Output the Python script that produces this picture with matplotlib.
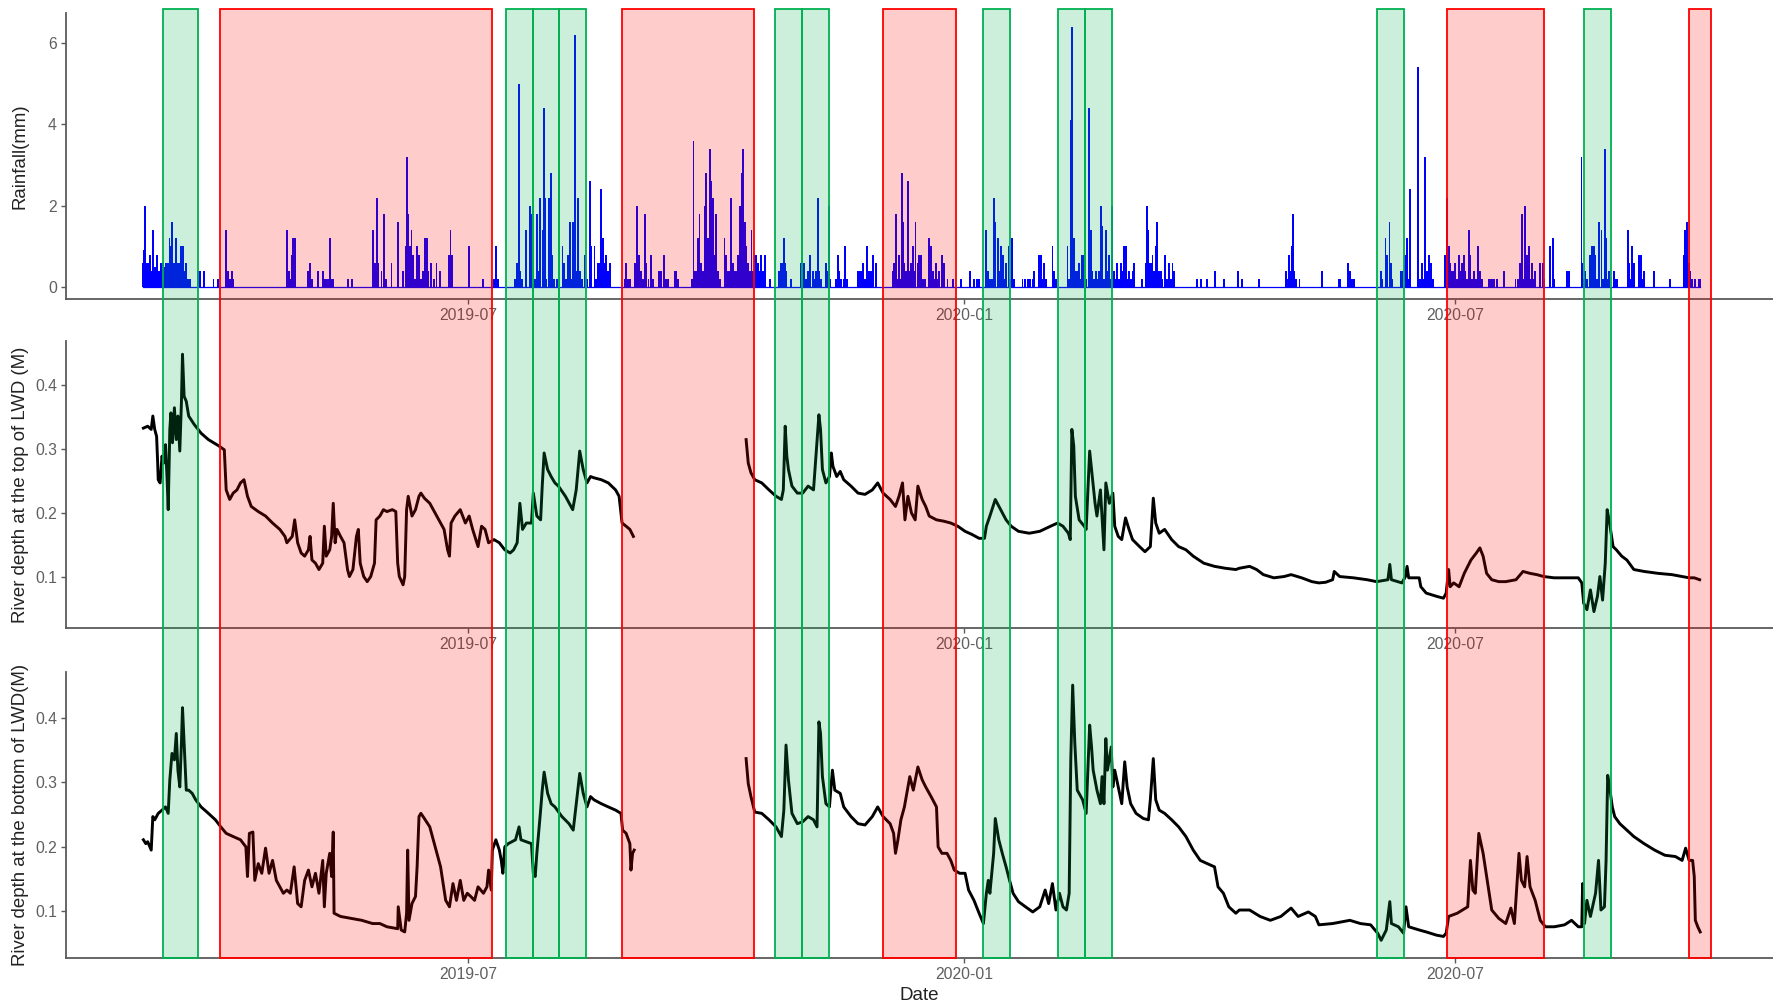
import numpy as np
import matplotlib
matplotlib.use("Agg")
import matplotlib.pyplot as plt
import matplotlib.dates as mdates

plt.rcParams["font.family"] = ["Liberation Sans", "DejaVu Sans"]

# ---------------------------------------------------------------------------
# Data (day = days since 2019-03-01)
# ---------------------------------------------------------------------------
BASE = np.datetime64("2019-03-01T00:00")

rain = [
    (1.7, 0.6), (2.0, 0.9), (2.4, 2.0), (3.0, 0.6), (3.6, 0.6), (4.2, 0.8), (4.8, 0.4), (5.2, 1.4),
    (5.6, 0.4), (6.1, 0.5), (6.5, 0.3), (6.9, 0.8), (7.5, 0.4), (8.2, 0.6), (8.7, 0.4), (9.1, 0.6),
    (9.6, 0.5), (10.1, 0.6), (10.7, 0.6), (11.4, 1.2), (11.9, 1.0), (12.4, 1.6), (13.1, 0.6),
    (13.8, 1.2), (14.2, 0.6), (14.7, 0.6), (15.1, 0.6), (15.6, 1.0), (16.3, 1.0), (16.8, 0.4),
    (17.5, 0.6), (18.4, 0.2), (19.0, 0.2), (22.1, 0.4), (22.7, 0.4), (24.2, 0.4), (27.7, 0.2),
    (29.5, 0.2), (32.4, 1.4), (32.8, 0.2), (33.2, 0.4), (33.8, 0.2), (34.5, 0.4), (35.0, 0.2),
    (54.8, 1.4), (55.3, 0.2), (55.8, 0.4), (56.3, 0.2), (56.7, 0.8), (57.3, 1.2), (57.9, 1.2),
    (62.9, 0.4), (63.5, 0.6), (64.1, 0.2), (66.6, 0.4), (68.4, 0.4), (69.0, 0.2), (69.5, 0.2),
    (69.9, 0.2), (70.4, 0.2), (70.9, 1.2), (71.5, 0.2), (72.1, 0.2), (77.7, 0.2), (78.9, 0.2),
    (86.7, 1.4), (87.5, 0.6), (88.2, 2.2), (88.8, 0.6), (90.0, 0.4), (91.0, 1.8), (91.5, 0.2),
    (93.7, 0.6), (96.2, 1.6), (98.0, 0.4), (99.0, 1.0), (99.5, 3.2), (99.9, 1.8), (100.5, 1.0),
    (101.1, 1.4), (101.7, 0.8), (102.4, 0.2), (103.2, 1.0), (104.0, 0.8), (104.6, 0.2),
    (105.5, 0.4), (106.1, 1.2), (106.5, 0.2), (107.0, 1.2), (107.3, 0.4), (108.5, 0.6),
    (109.5, 0.2), (110.4, 0.6), (111.6, 0.4), (115.1, 0.8), (115.6, 1.4), (116.3, 0.8),
    (122.5, 1.0), (127.7, 0.2), (130.8, 0.2), (131.6, 0.2), (132.4, 1.0), (133.2, 0.2),
    (139.4, 0.2), (140.3, 0.6), (140.9, 5.0), (141.3, 0.4), (142.0, 0.2), (143.5, 1.4),
    (145.0, 2.0), (145.6, 1.8), (146.3, 0.2), (147.0, 0.2), (147.7, 1.8), (148.4, 0.4),
    (148.9, 2.2), (149.7, 1.4), (150.2, 4.4), (150.5, 2.2), (151.2, 0.2), (152.1, 2.2),
    (152.6, 1.0), (153.0, 2.8), (153.4, 0.8), (154.0, 0.2), (155.0, 0.2), (157.1, 1.0),
    (157.6, 0.6), (158.3, 0.2), (159.2, 0.8), (160.0, 1.6), (160.5, 0.2), (161.0, 1.6),
    (161.6, 3.2), (161.9, 6.2), (162.3, 0.4), (162.9, 2.2), (163.5, 0.4), (164.3, 0.2),
    (165.3, 0.8), (166.2, 0.2), (167.2, 2.6), (167.8, 1.0), (169.0, 1.0), (169.6, 0.2),
    (170.3, 0.6), (170.9, 0.6), (171.4, 2.4), (172.1, 1.2), (172.7, 0.6), (173.4, 0.8),
    (174.0, 0.4), (174.6, 0.6),
    (180.2, 0.2), (180.8, 0.6), (181.4, 0.2), (182.0, 0.2), (183.9, 0.6), (184.7, 2.0),
    (185.5, 0.8), (186.3, 0.4), (187.0, 0.2), (187.6, 1.8), (188.2, 0.6), (189.0, 0.2),
    (190.0, 0.8), (190.6, 0.2), (192.9, 0.4), (193.7, 0.4), (194.6, 0.8), (195.4, 0.2),
    (196.2, 0.2), (198.7, 0.4), (199.3, 0.4), (199.9, 0.2), (205.1, 0.2), (205.7, 3.6),
    (206.2, 0.4), (206.7, 0.4), (207.3, 1.2), (207.9, 1.8), (208.6, 0.6), (209.2, 0.4),
    (209.8, 2.0), (210.2, 2.8), (210.6, 0.8), (211.0, 1.2), (211.5, 0.6), (211.9, 3.4),
    (212.3, 2.6), (212.9, 2.2), (213.5, 0.8), (214.1, 1.8), (214.7, 0.4), (215.5, 0.2),
    (217.2, 1.2), (217.8, 0.8), (218.4, 0.4), (219.1, 0.4), (219.7, 2.2), (220.3, 0.6),
    (220.9, 0.4), (221.6, 0.4), (222.2, 0.8), (222.8, 2.0), (223.6, 2.8), (224.2, 3.4),
    (224.7, 1.6), (225.2, 1.0), (225.9, 0.6), (226.5, 0.4), (227.2, 1.4), (227.8, 0.4),
    (228.4, 0.8), (228.9, 0.8), (229.6, 0.6), (230.2, 0.4), (230.8, 0.8), (231.6, 0.4),
    (232.3, 0.8), (233.9, 0.2), (237.5, 0.4), (238.2, 0.6), (238.8, 0.6), (239.1, 1.2),
    (239.6, 0.6), (240.0, 0.4), (241.9, 0.2), (245.6, 0.6), (246.2, 0.2), (246.8, 0.6),
    (247.5, 0.2), (248.2, 0.4), (248.9, 0.8), (249.9, 0.4), (250.6, 0.2), (251.2, 0.4),
    (251.8, 2.2), (252.4, 0.4), (253.0, 0.2), (254.9, 0.6), (255.5, 0.4), (255.9, 2.0),
    (256.5, 0.2), (258.5, 0.2), (259.2, 0.8), (259.8, 0.4), (260.5, 0.2), (261.4, 0.2),
    (262.0, 1.0), (262.6, 0.2), (266.6, 0.4), (267.2, 0.4), (267.8, 0.4), (268.7, 0.6),
    (269.4, 0.2), (270.1, 1.0), (270.9, 0.4), (271.5, 0.4), (272.2, 0.8), (273.4, 0.6),
    (279.6, 0.4), (280.2, 0.6), (280.8, 1.8), (281.3, 0.2), (281.8, 0.8), (282.4, 0.2),
    (282.9, 2.8), (283.3, 1.6), (283.9, 0.6), (284.5, 0.4), (285.1, 2.6), (285.7, 0.4),
    (286.4, 0.6), (287.0, 1.0), (287.5, 0.4), (288.0, 1.6), (288.8, 0.6), (289.4, 0.8),
    (290.1, 0.8), (290.7, 0.2), (291.5, 0.2), (293.1, 1.2), (293.8, 1.0), (294.4, 0.4),
    (295.0, 0.2), (295.6, 0.6), (296.2, 0.2), (296.8, 0.4), (297.8, 0.8), (298.7, 0.6),
    (299.9, 0.2), (301.8, 0.2), (304.9, 0.2), (308.2, 0.4), (309.8, 0.2), (310.8, 0.2),
    (311.7, 0.2), (314.1, 1.4), (314.8, 0.4), (315.5, 0.2), (316.4, 0.2), (317.2, 2.2),
    (317.6, 1.6), (318.5, 1.2), (319.1, 0.4), (319.7, 1.0), (320.3, 0.8), (321.0, 0.2),
    (321.5, 0.6), (322.5, 1.0), (323.2, 0.2), (323.8, 1.2), (324.5, 0.2), (327.7, 0.2),
    (328.6, 0.2), (329.6, 0.2), (330.5, 0.2), (331.4, 0.2), (332.0, 0.4), (333.9, 0.8),
    (334.5, 0.8), (335.1, 0.2), (335.7, 0.6), (336.5, 0.2), (338.8, 1.0), (339.5, 0.4),
    (340.2, 0.2), (344.4, 1.0), (345.0, 0.2), (345.6, 4.1), (346.2, 6.4), (346.9, 1.2),
    (347.5, 0.4), (348.1, 0.4), (348.7, 0.6), (349.3, 0.2), (349.9, 0.8), (350.6, 0.8),
    (351.2, 0.2), (352.4, 4.4), (353.0, 1.4),
    (353.6, 0.4), (354.2, 0.2), (354.9, 0.4), (355.5, 0.2), (356.1, 0.4), (356.7, 2.0),
    (357.1, 1.5), (357.8, 0.2), (358.6, 1.4), (359.2, 0.4), (359.8, 0.8), (360.4, 0.2),
    (361.0, 2.0), (361.7, 0.4), (362.3, 0.2), (362.9, 0.6), (363.5, 0.2), (364.1, 0.6),
    (364.8, 0.4), (365.4, 1.0), (366.2, 1.0), (366.8, 0.2), (367.2, 0.4), (367.8, 0.2),
    (368.5, 0.4), (369.1, 0.6), (371.9, 0.2), (373.4, 0.6), (373.8, 2.0), (374.3, 1.4),
    (374.8, 0.6), (375.3, 0.6), (375.9, 0.8), (376.5, 0.4), (377.1, 1.0), (377.7, 1.6),
    (378.3, 0.4), (379.0, 0.4), (379.6, 0.2), (380.6, 0.8), (381.3, 0.2), (382.0, 0.6),
    (382.6, 0.2), (383.3, 0.6), (383.9, 0.4), (392.5, 0.2), (393.8, 0.2), (396.2, 0.2),
    (399.0, 0.4), (402.4, 0.2), (407.6, 0.4), (409.0, 0.2), (415.4, 0.2), (425.3, 0.4),
    (425.9, 0.2), (426.5, 0.8), (427.0, 0.4), (427.5, 1.0), (428.1, 1.8), (428.3, 0.4),
    (429.0, 0.2), (430.4, 0.2), (438.8, 0.4), (445.0, 0.2), (445.6, 0.2), (448.5, 0.6),
    (449.3, 0.4), (450.0, 0.2), (450.6, 0.2), (460.5, 0.4), (461.1, 0.2), (462.3, 1.2),
    (462.9, 0.8), (463.8, 1.6), (464.2, 0.6), (464.7, 0.2), (467.9, 0.4), (468.5, 0.4),
    (469.7, 0.8), (470.3, 1.2), (470.8, 0.2), (471.3, 2.4), (474.3, 5.4), (475.0, 0.2),
    (475.9, 0.6), (476.5, 0.2), (477.1, 3.2), (477.7, 0.4), (478.6, 0.8), (479.3, 0.6),
    (479.8, 0.2), (484.3, 0.8), (485.1, 2.2), (485.8, 1.0), (486.4, 0.6), (487.0, 0.4),
    (487.6, 0.4), (488.2, 0.6), (488.9, 0.2), (489.5, 0.8), (490.1, 0.4), (490.7, 0.6),
    (491.3, 0.8), (491.9, 0.4), (492.6, 0.2), (493.2, 1.4), (493.8, 0.8), (494.4, 0.2),
    (495.0, 0.4), (495.8, 0.2), (496.6, 1.0), (497.5, 0.4), (498.2, 0.2), (500.5, 0.2),
    (501.2, 0.2), (501.8, 0.2), (502.5, 0.2), (503.7, 0.2), (506.1, 0.4), (510.5, 0.2),
    (511.3, 0.2), (512.3, 0.6), (512.9, 1.8), (513.4, 0.2), (513.9, 2.0), (514.8, 0.8),
    (515.4, 1.0), (516.0, 0.2), (516.6, 0.6), (517.3, 0.2), (517.9, 0.4), (519.7, 0.6),
    (520.6, 0.6), (521.2, 0.2), (523.4, 1.0), (524.3, 1.2), (524.8, 0.2), (529.6, 0.4),
    (530.2, 0.4), (535.0, 3.2), (535.2, 0.6), (535.8, 0.2), (536.4, 0.4), (537.0, 0.2),
    (538.3, 0.8), (538.9, 1.0), (539.5, 1.0), (540.1, 0.8), (540.8, 0.2), (541.4, 1.6),
    (542.4, 1.4), (543.0, 0.2), (543.6, 3.4), (544.1, 1.2), (544.6, 0.2), (545.1, 0.4),
    (546.9, 0.4), (547.5, 0.2), (548.2, 0.2), (552.2, 1.4), (552.7, 0.6), (553.2, 0.2),
    (553.7, 1.0), (554.3, 0.6), (556.2, 0.8), (556.8, 0.2), (557.2, 0.8), (557.7, 0.2),
    (558.1, 0.4), (561.8, 0.4), (567.7, 0.2), (572.9, 0.8), (573.5, 1.4), (574.1, 1.6),
    (574.7, 0.6), (575.3, 0.4), (576.0, 0.2), (577.2, 0.2), (578.4, 0.2), (579.0, 0.2),
]

# river depth at the top of the LWD (m); None marks the logger gap
depth_top = [
    (1.7, 0.333), (3.3, 0.336), (4.6, 0.331), (5.2, 0.352), (5.9, 0.331), (6.6, 0.320),
    (7.0, 0.278), (7.2, 0.252), (7.9, 0.247), (8.6, 0.289), (9.2, 0.278), (9.9, 0.307),
    (10.5, 0.252), (10.9, 0.205), (11.5, 0.331), (11.9, 0.357), (12.5, 0.310), (13.2, 0.365),
    (13.9, 0.315), (14.5, 0.352), (15.2, 0.297), (15.8, 0.373), (16.2, 0.449), (16.8, 0.383),
    (17.6, 0.375), (18.5, 0.352), (20.5, 0.339), (23.1, 0.325), (25.8, 0.315), (29.7, 0.305),
    (31.7, 0.299), (32.4, 0.236), (33.7, 0.221), (35.0, 0.231), (36.4, 0.236), (37.7, 0.247),
    (39.0, 0.252), (40.3, 0.226), (41.7, 0.210), (44.3, 0.202), (47.0, 0.195), (49.6, 0.184),
    (52.3, 0.174), (54.2, 0.163), (54.9, 0.153), (56.9, 0.163), (57.8, 0.189), (58.9, 0.153),
    (60.2, 0.137), (61.5, 0.132), (62.9, 0.142), (63.5, 0.163), (64.2, 0.126), (65.5, 0.121),
    (66.8, 0.111), (68.2, 0.121), (68.8, 0.179), (69.5, 0.132), (70.8, 0.142), (71.5, 0.163),
    (72.1, 0.215), (72.8, 0.153), (73.5, 0.174), (74.8, 0.163), (76.1, 0.153), (77.4, 0.111),
    (78.1, 0.100), (79.4, 0.111), (80.7, 0.163), (81.4, 0.174), (82.1, 0.121), (83.4, 0.100),
    (84.7, 0.092), (86.0, 0.100), (87.4, 0.121), (88.0, 0.189), (89.4, 0.195), (90.7, 0.205),
    (92.0, 0.202), (94.0, 0.205), (95.3, 0.202), (96.0, 0.121), (96.6, 0.100), (98.0, 0.087),
    (98.6, 0.100), (99.3, 0.205), (99.9, 0.226), (101.3, 0.195), (102.6, 0.205), (103.9, 0.226),
    (104.6, 0.231), (105.9, 0.223), (107.9, 0.215), (110.5, 0.195), (113.2, 0.174),
    (114.5, 0.142), (115.2, 0.132), (115.8, 0.184), (117.2, 0.195), (119.2, 0.205),
    (121.1, 0.184), (122.5, 0.195), (123.8, 0.174), (125.8, 0.147), (127.1, 0.179),
    (128.4, 0.174), (129.7, 0.153), (131.7, 0.158), (133.7, 0.153), (135.7, 0.142),
    (137.7, 0.137), (139.0, 0.142), (140.3, 0.153), (141.3, 0.215), (142.3, 0.174),
    (143.7, 0.184), (145.6, 0.184), (146.3, 0.231), (147.6, 0.195), (149.0, 0.189),
    (149.6, 0.242), (150.3, 0.294), (151.6, 0.268), (152.9, 0.257), (154.3, 0.247),
    (155.6, 0.242), (158.2, 0.226), (160.9, 0.205), (162.2, 0.236), (163.5, 0.297),
    (164.8, 0.268), (166.2, 0.247), (167.5, 0.257), (168.8, 0.255), (171.5, 0.252),
    (174.1, 0.247), (176.8, 0.236), (178.1, 0.226), (179.2, 0.184), (180.7, 0.179),
    (182.1, 0.174), (183.4, 0.163),
    (204.0, None),
    (225.2, 0.315), (226.0, 0.278), (227.0, 0.263), (228.4, 0.252), (231.0, 0.247),
    (233.7, 0.236), (236.3, 0.226), (238.3, 0.221), (239.0, 0.236), (239.7, 0.336),
    (240.3, 0.289), (240.9, 0.268), (242.2, 0.242), (244.2, 0.231), (246.2, 0.231),
    (248.2, 0.242), (250.2, 0.236), (252.2, 0.354), (252.8, 0.331), (253.5, 0.268),
    (254.8, 0.247), (256.1, 0.257), (256.8, 0.294), (257.4, 0.273), (258.8, 0.257),
    (260.1, 0.265), (261.4, 0.252), (264.1, 0.242), (266.7, 0.231), (269.3, 0.229),
    (272.0, 0.236), (274.0, 0.247), (276.0, 0.231), (278.6, 0.221), (280.6, 0.210),
    (281.9, 0.226), (283.2, 0.247), (284.1, 0.189), (285.2, 0.226), (286.5, 0.200),
    (287.9, 0.189), (288.9, 0.242), (290.5, 0.221), (291.8, 0.210), (293.1, 0.195),
    (295.8, 0.189), (298.4, 0.187), (301.1, 0.184), (303.7, 0.179), (306.4, 0.171),
    (309.0, 0.166), (311.6, 0.160), (313.6, 0.160), (314.3, 0.179), (315.6, 0.195),
    (317.6, 0.221), (319.6, 0.205), (321.6, 0.189), (323.5, 0.179), (326.2, 0.171),
    (330.2, 0.168), (334.1, 0.171), (338.1, 0.179), (340.7, 0.184), (342.7, 0.179),
    (344.7, 0.168), (345.4, 0.158), (346.0, 0.331), (346.7, 0.305), (347.3, 0.226),
    (348.7, 0.189), (350.6, 0.179), (351.3, 0.174), (352.6, 0.297), (353.3, 0.268),
    (354.6, 0.215), (355.3, 0.195), (356.6, 0.236), (357.9, 0.142), (358.6, 0.247),
    (359.9, 0.215), (361.2, 0.231), (361.9, 0.179), (363.2, 0.163), (364.5, 0.158),
    (365.9, 0.192), (367.2, 0.174), (368.5, 0.158), (371.1, 0.147), (373.1, 0.139),
    (375.1, 0.147), (376.2, 0.223), (377.1, 0.184), (378.4, 0.168), (380.4, 0.174),
    (383.0, 0.158), (385.6, 0.147), (388.3, 0.142), (391.0, 0.132), (394.9, 0.121),
    (398.9, 0.116), (402.9, 0.113), (406.8, 0.111), (408.1, 0.113), (411.9, 0.116),
    (414.5, 0.111), (417.0, 0.103), (420.9, 0.098), (424.7, 0.100), (427.3, 0.103),
    (431.2, 0.098), (435.0, 0.092), (437.6, 0.090), (440.1, 0.091), (442.7, 0.095),
    (443.3, 0.108), (445.3, 0.100), (450.4, 0.098), (455.5, 0.095), (459.0, 0.092),
    (463.2, 0.095), (463.9, 0.119), (464.5, 0.095), (468.4, 0.090), (469.7, 0.100),
    (470.3, 0.116), (470.9, 0.098), (474.8, 0.098), (475.4, 0.084), (477.4, 0.074),
    (481.2, 0.069), (483.8, 0.066), (484.8, 0.074), (485.7, 0.111), (486.3, 0.084),
    (487.6, 0.090), (489.6, 0.084), (491.5, 0.105), (492.8, 0.116), (494.0, 0.126),
    (496.0, 0.137), (497.3, 0.145), (498.5, 0.132), (499.8, 0.105), (501.7, 0.095),
    (504.3, 0.092), (506.9, 0.092), (510.7, 0.095), (513.3, 0.108), (515.9, 0.105),
    (518.4, 0.103), (521.0, 0.100), (524.8, 0.098), (528.7, 0.098), (533.8, 0.098),
    (535.1, 0.090), (535.8, 0.058), (537.0, 0.048), (538.3, 0.079), (539.6, 0.045),
    (540.9, 0.069), (541.8, 0.100), (542.8, 0.063), (543.8, 0.121), (544.5, 0.205),
    (545.4, 0.184), (546.7, 0.147), (547.9, 0.142), (549.9, 0.132), (551.8, 0.126),
    (554.4, 0.111), (558.2, 0.108), (563.4, 0.105), (568.5, 0.103), (572.3, 0.100),
    (574.9, 0.098), (576.8, 0.098), (578.8, 0.095),
]

# river depth at the bottom of the LWD (m)
depth_bottom = [
    (1.7, 0.211), (2.6, 0.205), (3.3, 0.208), (4.6, 0.195), (5.2, 0.247), (5.9, 0.242),
    (7.2, 0.252), (8.6, 0.257), (9.9, 0.262), (10.9, 0.252), (11.5, 0.304), (12.3, 0.345),
    (13.2, 0.335), (13.9, 0.376), (14.5, 0.319), (15.2, 0.293), (15.8, 0.360), (16.2, 0.416),
    (16.8, 0.360), (17.6, 0.288), (18.5, 0.288), (19.8, 0.283), (21.1, 0.273), (23.1, 0.262),
    (25.8, 0.252), (28.4, 0.242), (30.4, 0.231), (32.4, 0.221), (35.0, 0.216), (37.7, 0.211),
    (39.7, 0.200), (40.3, 0.154), (41.0, 0.221), (42.3, 0.223), (43.0, 0.148), (44.3, 0.174),
    (45.6, 0.159), (47.0, 0.198), (48.3, 0.159), (49.6, 0.179), (51.0, 0.148), (52.3, 0.138),
    (53.6, 0.128), (54.9, 0.133), (56.2, 0.128), (57.6, 0.169), (58.9, 0.112), (60.2, 0.107),
    (61.5, 0.148), (62.9, 0.164), (64.2, 0.138), (65.5, 0.159), (66.8, 0.128), (68.2, 0.179),
    (68.8, 0.107), (69.5, 0.159), (70.8, 0.190), (71.5, 0.154), (72.1, 0.223), (72.4, 0.097),
    (74.8, 0.092), (78.8, 0.089), (82.7, 0.086), (86.7, 0.081), (89.4, 0.081), (92.0, 0.076),
    (96.0, 0.073), (96.2, 0.107), (97.3, 0.071), (98.6, 0.068), (99.3, 0.097), (99.7, 0.195),
    (100.2, 0.086), (101.3, 0.112), (102.6, 0.123), (103.2, 0.169), (103.9, 0.247),
    (104.6, 0.252), (105.9, 0.244), (107.9, 0.231), (109.9, 0.200), (111.9, 0.169),
    (113.8, 0.117), (115.2, 0.107), (116.5, 0.143), (117.8, 0.117), (119.2, 0.148),
    (120.5, 0.117), (121.8, 0.128), (123.1, 0.123), (124.5, 0.117), (125.8, 0.138),
    (127.8, 0.128), (129.1, 0.138), (129.7, 0.164), (130.7, 0.133), (131.1, 0.195),
    (132.4, 0.211), (133.7, 0.195), (134.4, 0.179), (135.0, 0.159), (135.7, 0.200),
    (137.0, 0.205), (139.7, 0.211), (141.0, 0.231), (141.7, 0.211), (143.7, 0.208),
    (145.6, 0.205), (146.3, 0.159), (147.0, 0.154), (147.6, 0.190), (148.9, 0.252),
    (149.6, 0.288), (150.3, 0.316), (151.6, 0.283), (152.9, 0.267), (154.3, 0.262),
    (156.9, 0.247), (159.5, 0.236), (161.1, 0.226), (162.2, 0.267), (163.5, 0.314),
    (164.8, 0.283), (166.2, 0.262), (167.5, 0.278), (168.8, 0.273), (171.5, 0.267),
    (174.1, 0.262), (176.8, 0.257), (178.8, 0.252), (179.4, 0.226), (180.7, 0.221),
    (182.1, 0.205), (182.5, 0.164), (183.1, 0.190), (183.7, 0.195),
    (204.0, None),
    (225.2, 0.337), (226.0, 0.298), (227.0, 0.278), (228.4, 0.254), (231.0, 0.252),
    (233.7, 0.242), (236.3, 0.231), (238.3, 0.216), (239.2, 0.257), (240.0, 0.358),
    (240.9, 0.304), (242.2, 0.252), (244.2, 0.236), (246.2, 0.239), (248.2, 0.247),
    (250.2, 0.242), (251.5, 0.231), (252.2, 0.394), (252.8, 0.376), (253.5, 0.309),
    (254.8, 0.267), (256.1, 0.262), (257.2, 0.319), (258.1, 0.288), (260.1, 0.283),
    (261.4, 0.262), (264.1, 0.247), (266.7, 0.236), (269.3, 0.234), (272.0, 0.247),
    (274.0, 0.262), (276.0, 0.247), (278.6, 0.236), (279.9, 0.221), (280.6, 0.190),
    (281.5, 0.211), (282.6, 0.242), (283.9, 0.262), (285.9, 0.309), (287.2, 0.288),
    (288.9, 0.324), (290.5, 0.304), (291.8, 0.293), (293.8, 0.278), (295.8, 0.262),
    (296.4, 0.200), (297.8, 0.190), (299.7, 0.190), (301.1, 0.179), (302.4, 0.164),
    (304.4, 0.159), (306.4, 0.159), (307.7, 0.133), (309.7, 0.117), (311.6, 0.097),
    (313.2, 0.081), (314.3, 0.128), (315.0, 0.148), (315.6, 0.128), (317.0, 0.190),
    (317.6, 0.244), (318.9, 0.211), (320.2, 0.190), (321.6, 0.169), (322.9, 0.148),
    (324.2, 0.128), (326.2, 0.115), (328.8, 0.107), (331.5, 0.099), (334.1, 0.107),
    (336.1, 0.133), (337.4, 0.112), (338.8, 0.143), (340.1, 0.102), (341.4, 0.128),
    (342.7, 0.107), (344.0, 0.102), (345.0, 0.128), (345.6, 0.335), (346.3, 0.451),
    (347.1, 0.360), (348.0, 0.288), (350.0, 0.273), (351.3, 0.252), (352.6, 0.389),
    (353.3, 0.355), (353.9, 0.319), (355.3, 0.288), (356.6, 0.267), (357.2, 0.309),
    (357.9, 0.267), (358.6, 0.368), (359.2, 0.319), (360.6, 0.355), (361.2, 0.293),
    (361.9, 0.319), (363.2, 0.293), (364.5, 0.267), (365.6, 0.332), (366.5, 0.293),
    (367.8, 0.267), (369.8, 0.252), (372.5, 0.244), (374.4, 0.242), (375.1, 0.273),
    (376.2, 0.337), (377.1, 0.273), (378.4, 0.257), (380.4, 0.252), (383.0, 0.242),
    (385.6, 0.231), (388.3, 0.216), (391.0, 0.195), (393.6, 0.179), (396.2, 0.174),
    (398.9, 0.169), (400.2, 0.138), (402.2, 0.128), (404.2, 0.107), (406.8, 0.097),
    (408.1, 0.102), (411.9, 0.102), (415.8, 0.092), (419.6, 0.086), (423.5, 0.092),
    (427.3, 0.105), (429.9, 0.092), (433.7, 0.099), (436.3, 0.092), (437.6, 0.079),
    (442.7, 0.081), (449.1, 0.086), (453.0, 0.081), (456.8, 0.079), (459.4, 0.066),
    (460.7, 0.055), (462.6, 0.071), (463.9, 0.115), (464.5, 0.081), (467.1, 0.076),
    (469.0, 0.066), (469.9, 0.107), (470.9, 0.076), (474.8, 0.071), (477.4, 0.068),
    (481.2, 0.063), (483.8, 0.061), (484.8, 0.066), (485.7, 0.092), (488.9, 0.097),
    (492.8, 0.107), (493.8, 0.179), (494.7, 0.133), (495.6, 0.128), (496.9, 0.221),
    (498.5, 0.190), (499.8, 0.154), (501.7, 0.102), (504.3, 0.089), (506.9, 0.081),
    (508.8, 0.105), (510.1, 0.081), (511.8, 0.190), (512.7, 0.148), (513.9, 0.138),
    (514.8, 0.185), (515.9, 0.138), (517.8, 0.117), (519.7, 0.086), (521.6, 0.076),
    (524.9, 0.076), (528.7, 0.079), (531.3, 0.086), (533.8, 0.076), (535.1, 0.076),
    (535.4, 0.143), (536.1, 0.081), (537.0, 0.117), (538.3, 0.092), (540.2, 0.128),
    (541.3, 0.179), (542.2, 0.102), (543.5, 0.107), (544.1, 0.179), (544.7, 0.311),
    (545.4, 0.293), (546.4, 0.262), (547.3, 0.247), (549.2, 0.236), (551.8, 0.226),
    (554.4, 0.216), (558.2, 0.205), (562.1, 0.195), (565.9, 0.187), (569.8, 0.185),
    (572.3, 0.179), (573.6, 0.198), (574.9, 0.179), (576.2, 0.179), (576.8, 0.154),
    (577.2, 0.086), (578.1, 0.076), (579.0, 0.068),
]

# highlighted periods
event_start = ["2019-03-10", "2019-03-31", "2019-07-15", "2019-07-25", "2019-08-04",
               "2019-08-27", "2019-10-23", "2019-11-02", "2019-12-02", "2020-01-08",
               "2020-02-05", "2020-02-15", "2020-06-02", "2020-06-28", "2020-08-18",
               "2020-09-26"]
event_end = ["2019-03-23", "2019-07-10", "2019-07-25", "2019-08-04", "2019-08-14",
             "2019-10-15", "2019-11-02", "2019-11-12", "2019-12-29", "2020-01-18",
             "2020-02-15", "2020-02-25", "2020-06-12", "2020-08-03", "2020-08-28",
             "2020-10-04"]
event_kind = ["g", "r", "g", "g", "g", "r", "g", "g", "r", "g", "g", "g", "g", "r", "g", "r"]

y_labels = ["Rainfall(mm)", "River depth at the top of LWD (M)",
            "River depth at the bottom of LWD(M)"]


def to_dates(days):
    minutes = np.round(np.asarray(days, dtype=float) * 1440).astype("int64")
    return BASE + minutes.astype("timedelta64[m]")


def unpack(pairs):
    day = [p[0] for p in pairs]
    val = [np.nan if p[1] is None else p[1] for p in pairs]
    return to_dates(day), np.array(val, dtype=float)


# ---------------------------------------------------------------------------
# Figure
# ---------------------------------------------------------------------------
W, H = 1773, 1007
fig = plt.figure(figsize=(W / 100, H / 100), dpi=100)

left = 66 / W
panels = [(13.5, 298.5), (341.5, 627.5), (671.6, 957.7)]  # top/bottom in px
axes = []
for top, bottom in panels:
    ax = fig.add_axes([left, 1 - bottom / H, 1 - left, (bottom - top) / H])
    axes.append(ax)

xlim = (np.datetime64("2019-02-02"), np.datetime64("2020-10-27"))
axis_col = "#5a5a5a"
tick_col = "#5f5f5f"

rain_x, rain_y = unpack(rain)
axes[0].bar(rain_x, rain_y, width=0.7, color="#0000ff", linewidth=0, zorder=2)
axes[0].plot([rain_x[0], rain_x[-1]], [0, 0], color="#0000ff", lw=0.9, zorder=2)
axes[0].set_ylim(-0.28, 6.72)
axes[0].set_yticks([0, 2, 4, 6])

for ax, series, lim in [(axes[1], depth_top, (0.02, 0.469)),
                        (axes[2], depth_bottom, (0.028, 0.472))]:
    x, y = unpack(series)
    ax.plot(x, y, color="black", lw=2.1, zorder=2)
    ax.set_ylim(*lim)
    ax.set_yticks([0.1, 0.2, 0.3, 0.4])
    ax.yaxis.set_major_formatter(matplotlib.ticker.FormatStrFormatter("%.1f"))

for ax, lab in zip(axes, y_labels):
    ax.set_xlim(*xlim)
    ax.set_facecolor("none")
    for side in ("top", "right"):
        ax.spines[side].set_visible(False)
    for side in ("left", "bottom"):
        ax.spines[side].set_color(axis_col)
        ax.spines[side].set_linewidth(1.3)
    ax.xaxis.set_major_locator(mdates.MonthLocator(bymonth=[1, 7]))
    ax.xaxis.set_major_formatter(mdates.DateFormatter("%Y-%m"))
    ax.tick_params(axis="both", colors=axis_col, labelcolor=tick_col,
                   labelsize=11.3, length=3.5, width=1.0, pad=3)
    ax.set_ylabel(lab, fontsize=13.4, color="#222222")
    ax.yaxis.set_label_coords(-37 / (W - 66), 0.5)

axes[2].set_xlabel("Date", fontsize=13.5, color="#222222", labelpad=4)

# shaded event windows, drawn over the data across all three panels
ov = fig.add_axes([left, 1 - 957.7 / H, 1 - left, (957.7 - 9) / H], zorder=5)
ov.set_xlim(*xlim)
ov.set_ylim(0, 1)
ov.axis("off")
colors = {"g": "#00b050", "r": "#ff0000"}
for s, e, k in zip(event_start, event_end, event_kind):
    c = colors[k]
    ov.axvspan(np.datetime64(s), np.datetime64(e), ymin=0, ymax=1,
               facecolor=matplotlib.colors.to_rgba(c, 0.2), edgecolor=c,
               linewidth=1.3, clip_on=False)

fig.savefig("out.png", dpi=100)
